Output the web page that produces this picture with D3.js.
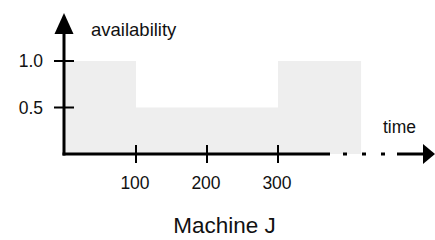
<!DOCTYPE html>
<html>
<head>
<meta charset="utf-8">
<script src="https://cdn.jsdelivr.net/npm/d3@7"></script>
<style>
  body { margin: 0; background: #fff; }
  text { font-family: "Liberation Sans", Arial, sans-serif; fill: #111; }
</style>
</head>
<body>
<div id="chart"></div>
<script>
// step boundaries (time) and availability level on each step
var times = [0, 100, 300, 417];
var levels = [1.0, 0.5, 1.0];
var xTicks = [100, 200, 300];
var yTicks = [0.5, 1.0];
var xLabel = "time";
var yLabel = "availability";
var title = "Machine J";

var width = 435, height = 240;

var svg = d3.select("#chart")
    .append("svg")
    .attr("width", width)
    .attr("height", height);

var xScale = d3.scaleLinear()
    .domain([0, 300])
    .range([65, 278]);
var yScale = d3.scaleLinear()
    .domain([0, 1])
    .range([154, 61]);

// step points: each level holds until the next boundary
var points = levels.map(function(v, i){ return {t: times[i], v: v}; });
points.push({t: times[times.length - 1], v: levels[levels.length - 1]});

var area = d3.area()
    .curve(d3.curveStepAfter)
    .x(function(d){ return xScale(d.t); })
    .y0(yScale(0))
    .y1(function(d){ return yScale(d.v); });

svg.append("path")
    .datum(points)
    .attr("d", area)
    .style("fill", "#eeeeee");

var x0 = xScale(0) - 1, y0 = yScale(0);

// y axis with arrow
svg.append("line")
    .attr("x1", x0).attr("y1", y0 + 1.5)
    .attr("x2", x0).attr("y2", 30)
    .style("stroke", "#000").style("stroke-width", 3);
svg.append("path")
    .attr("d", "M" + x0 + ",13L" + (x0 - 9.5) + ",34L" + (x0 + 9.5) + ",34Z")
    .style("fill", "#000");

// x axis: solid, dots, solid, arrow
svg.append("line")
    .attr("x1", x0 - 1.5).attr("y1", y0)
    .attr("x2", 330).attr("y2", y0)
    .style("stroke", "#000").style("stroke-width", 3);
svg.append("line")
    .attr("x1", 343).attr("y1", y0)
    .attr("x2", 390).attr("y2", y0)
    .style("stroke", "#000").style("stroke-width", 3)
    .style("stroke-dasharray", "4,15");
svg.append("line")
    .attr("x1", 397).attr("y1", y0)
    .attr("x2", 425).attr("y2", y0)
    .style("stroke", "#000").style("stroke-width", 3);
svg.append("path")
    .attr("d", "M435," + y0 + "L423," + (y0 - 10) + "L423," + (y0 + 10) + "Z")
    .style("fill", "#000");

// x ticks
svg.selectAll(".x-tick")
    .data(xTicks)
    .enter()
    .append("line")
    .attr("class", "x-tick")
    .attr("x1", function(d){ return xScale(d); })
    .attr("x2", function(d){ return xScale(d); })
    .attr("y1", y0 - 9)
    .attr("y2", y0 + 9)
    .style("stroke", "#000").style("stroke-width", 2);

svg.selectAll(".x-label")
    .data(xTicks)
    .enter()
    .append("text")
    .attr("class", "x-label")
    .attr("x", function(d){ return xScale(d) - 1; })
    .attr("y", 189)
    .style("font-size", "17.5px")
    .style("text-anchor", "middle")
    .text(function(d){ return d; });

// y ticks
svg.selectAll(".y-tick")
    .data(yTicks)
    .enter()
    .append("line")
    .attr("class", "y-tick")
    .attr("x1", x0 - 10)
    .attr("x2", x0 + 10)
    .attr("y1", function(d){ return yScale(d); })
    .attr("y2", function(d){ return yScale(d); })
    .style("stroke", "#000").style("stroke-width", 2);

svg.selectAll(".y-label")
    .data(yTicks)
    .enter()
    .append("text")
    .attr("class", "y-label")
    .attr("x", 43)
    .attr("y", function(d){ return yScale(d) + 6; })
    .style("font-size", "17.5px")
    .style("text-anchor", "end")
    .text(function(d){ return d3.format(".1f")(d); });

svg.append("text")
    .attr("x", 91).attr("y", 35.5)
    .style("font-size", "18.5px")
    .text(yLabel);

svg.append("text")
    .attr("x", 383).attr("y", 132.5)
    .style("font-size", "17.5px")
    .text(xLabel);

svg.append("text")
    .attr("x", 224.5).attr("y", 233)
    .style("font-size", "22.5px")
    .style("text-anchor", "middle")
    .text(title);
</script>
</body>
</html>
